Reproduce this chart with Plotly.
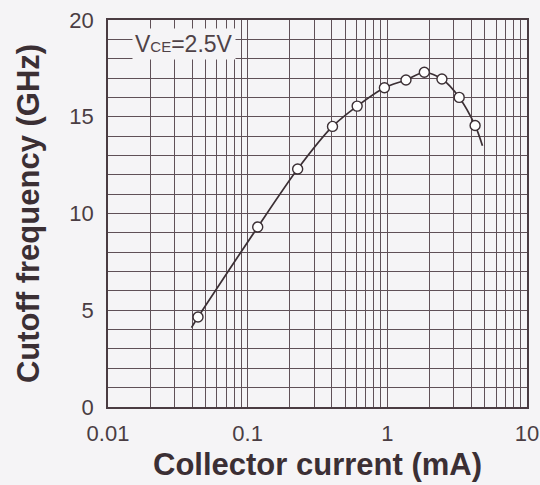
import plotly.graph_objects as go

# Measured cutoff frequency vs collector current (VCE = 2.5 V)
current_ma = [0.0441, 0.118, 0.228, 0.405, 0.608, 0.953, 1.36, 1.84, 2.46, 3.27, 4.25]
ft_ghz = [4.65, 9.3, 12.3, 14.5, 15.55, 16.5, 16.9, 17.3, 16.95, 16.0, 14.55]

# Fitted curve drawn through the measurements, slightly extended at both ends
curve_ma = [0.0396] + current_ma + [4.8]
curve_ghz = [4.1] + ft_ghz + [13.5]

x_tick_vals = [0.01, 0.1, 1, 10]
x_tick_text = ["0.01", "0.1", "1", "10"]
y_tick_vals = [0, 5, 10, 15, 20]

bg = "#f5f4f6"
grid = "#5f5057"
ink = "#3b2f34"
tick_ink = "#4a3d43"

fig = go.Figure()
fig.add_trace(go.Scatter(
    x=curve_ma, y=curve_ghz, mode="lines",
    line=dict(color=ink, width=1.7, shape="spline", smoothing=0.8),
    hoverinfo="skip", showlegend=False,
))
fig.add_trace(go.Scatter(
    x=current_ma, y=ft_ghz, mode="markers",
    marker=dict(symbol="circle", size=10, color="white",
                line=dict(color=ink, width=1.4)),
    showlegend=False,
))

fig.update_layout(
    width=540, height=485,
    margin=dict(l=108, r=13, t=20, b=78, autoexpand=False),
    paper_bgcolor=bg, plot_bgcolor=bg,
    font=dict(family="Liberation Sans, Arial, sans-serif", color=ink),
    xaxis=dict(
        type="log", range=[-2, 1], automargin=False,
        tickvals=x_tick_vals, ticktext=x_tick_text,
        ticks="", ticklabelstandoff=6,
        tickfont=dict(size=22, color=tick_ink),
        showgrid=True, gridcolor=grid, gridwidth=1.2,
        minor=dict(dtick="D1", showgrid=True, gridcolor=grid, gridwidth=1.2, ticks=""),
        showline=True, linecolor="#4a3c42", linewidth=1.6, mirror=True,
        zeroline=False,
        title=dict(text="<b>Collector current (mA)</b>",
                   font=dict(size=31, color=ink), standoff=8),
    ),
    yaxis=dict(
        range=[0, 20], automargin=False,
        tickvals=y_tick_vals,
        ticks="", ticklabelstandoff=8,
        tickfont=dict(size=22, color=tick_ink),
        showgrid=True, gridcolor=grid, gridwidth=1.2,
        minor=dict(dtick=1, showgrid=True, gridcolor=grid, gridwidth=1.2, ticks=""),
        showline=True, linecolor="#4a3c42", linewidth=1.6, mirror=True,
        zeroline=False,
        title=dict(text="<b>Cutoff frequency (GHz)</b>",
                   font=dict(size=31, color=ink), standoff=20),
    ),
    annotations=[dict(
        x=0.058, y=0.937, xref="paper", yref="paper",
        xanchor="left", yanchor="middle",
        text="V<span style='font-size:15px'>CE</span>=2.5V",
        showarrow=False, bgcolor=bg, borderpad=2,
        font=dict(size=23, color="#4f4247"),
    )],
)

fig.write_html("out.html")
